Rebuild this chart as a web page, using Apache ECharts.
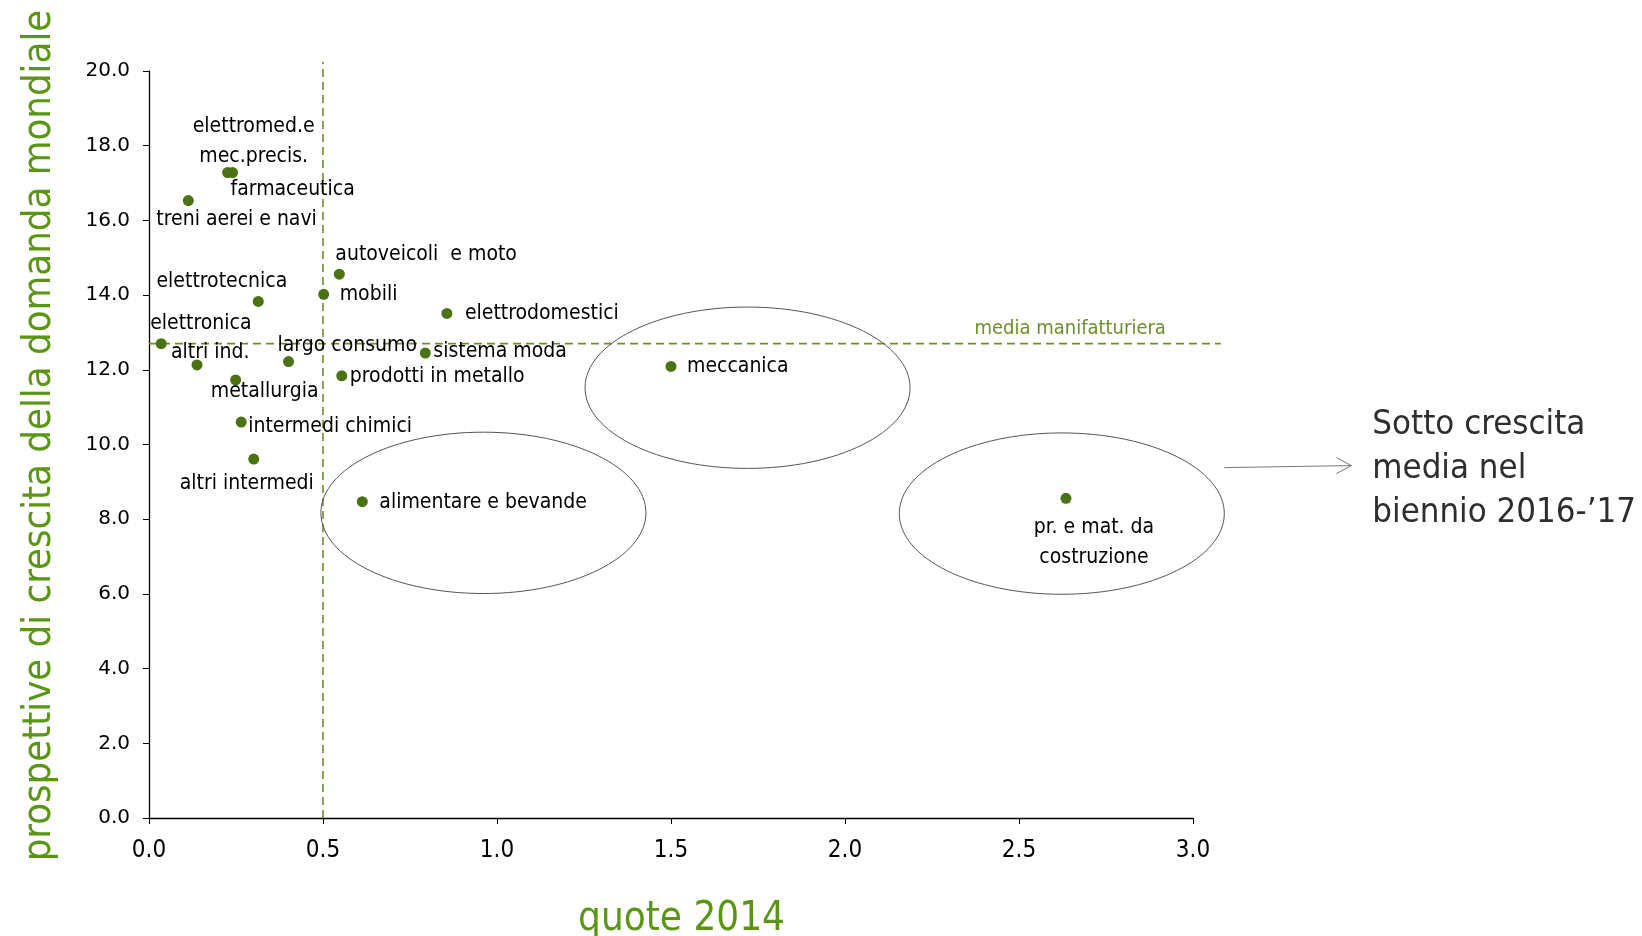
<!DOCTYPE html>
<html>
<head>
<meta charset="utf-8">
<script src="https://cdn.jsdelivr.net/npm/echarts@6/dist/echarts.min.js"></script>
<style>
  html, body { margin: 0; padding: 0; background: #ffffff; }
  #chart { width: 1642px; height: 936px; }
</style>
</head>
<body>
<div id="chart"></div>
<script>
// Settori manifatturieri: quota 2014 e prospettive di crescita della domanda mondiale
const sectors = [
  'elettromed.e\nmec.precis.', 'farmaceutica', 'treni aerei e navi', 'autoveicoli  e moto',
  'mobili', 'elettrotecnica', 'elettrodomestici', 'elettronica', 'altri ind.',
  'largo consumo', 'sistema moda', 'prodotti in metallo', 'metallurgia',
  'intermedi chimici', 'altri intermedi', 'alimentare e bevande', 'meccanica',
  'pr. e mat. da\ncostruzione'
];
const quote2014 = [
  0.226, 0.240, 0.113, 0.547,
  0.502, 0.314, 0.856, 0.035, 0.138,
  0.401, 0.794, 0.554, 0.249,
  0.265, 0.301, 0.613, 1.50,
  2.635
];
const crescita = [
  17.28, 17.28, 16.53, 14.56,
  14.02, 13.83, 13.51, 12.70, 12.13,
  12.22, 12.45, 11.84, 11.73,
  10.60, 9.61, 8.47, 12.09,
  8.56
];
const xTicks = [0, 0.5, 1, 1.5, 2, 2.5, 3];
const yTicks = [0, 2, 4, 6, 8, 10, 12, 14, 16, 18, 20];
const mediaQuota = 0.5;
const mediaCrescita = 12.7;
const mediaLabel = 'media manifatturiera';
const noteLines = ['Sotto crescita', 'media nel', 'biennio 2016-\u201917'];

// label placement per settore: [dx, dy, align] from the dot centre
const labelPlacement = {
  'elettromed.e\nmec.precis.': [26, -31, 'center'],
  'farmaceutica': [-2, 17, 'left'],
  'treni aerei e navi': [-32, 19, 'left'],
  'autoveicoli  e moto': [-4, -20, 'left'],
  'mobili': [16, 0, 'left'],
  'elettrotecnica': [29, -20, 'right'],
  'elettrodomestici': [18, 0, 'left'],
  'elettronica': [-11, -20, 'left'],
  'altri ind.': [-26, -12, 'left'],
  'largo consumo': [-11, -16, 'left'],
  'sistema moda': [8, -1, 'left'],
  'prodotti in metallo': [8, 1, 'left'],
  'metallurgia': [29, 12, 'center'],
  'intermedi chimici': [7, 4, 'left'],
  'altri intermedi': [-7, 24, 'center'],
  'alimentare e bevande': [17, 1, 'left'],
  'meccanica': [16, 0, 'left'],
  'pr. e mat. da\ncostruzione': [28, 44, 'center']
};

const NARROW = '"DejaVu Sans Condensed", "Liberation Sans Narrow", sans-serif';
const GREEN_TITLE = '#5a9614';
const GREEN_DOT = '#4a7314';
const GREEN_LINE = '#6b8f2b';

const points = sectors.map((name, i) => {
  const p = labelPlacement[name];
  return {
    name: name,
    value: [quote2014[i], crescita[i]],
    label: { offset: [p[0], p[1]], align: p[2] }
  };
});

const chart = echarts.init(document.getElementById('chart'), null, { renderer: 'canvas' });

chart.setOption({
  animation: false,
  backgroundColor: '#ffffff',
  grid: { left: 149, right: 449, top: 71, bottom: 118, outerBoundsMode: 'none' },
  xAxis: {
    type: 'value', min: 0, max: 3, interval: 0.5,
    name: 'quote 2014', nameLocation: 'middle', nameGap: 82,
    nameTextStyle: { color: GREEN_TITLE, fontFamily: NARROW, fontSize: 40, padding: [0, 0, 0, 21] },
    axisLine: { show: true, lineStyle: { color: '#000', width: 1.3 } },
    axisTick: { show: true, inside: false, length: 6, lineStyle: { color: '#000' } },
    axisLabel: {
      margin: 21, color: '#000', fontFamily: NARROW, fontSize: 24,
      formatter: v => xTicks.indexOf(v) >= 0 ? v.toFixed(1) : ''
    },
    splitLine: { show: false }
  },
  yAxis: {
    type: 'value', min: 0, max: 20, interval: 2,
    name: 'prospettive di crescita della domanda mondiale', nameLocation: 'middle', nameGap: 89,
    nameRotate: 90,
    nameTextStyle: { color: GREEN_TITLE, fontFamily: NARROW, fontSize: 39.7, padding: [0, 0, 0, 18] },
    axisLine: { show: true, lineStyle: { color: '#000', width: 1.3 } },
    axisTick: { show: true, inside: false, length: 6, lineStyle: { color: '#000' } },
    axisLabel: {
      margin: 19, color: '#000', fontFamily: '"DejaVu Sans", sans-serif', fontSize: 20,
      formatter: v => yTicks.indexOf(v) >= 0 ? v.toFixed(1) : ''
    },
    splitLine: { show: false }
  },
  series: [{
    type: 'scatter',
    symbol: 'circle',
    symbolSize: 11,
    itemStyle: { color: GREEN_DOT, opacity: 1 },
    z: 5,
    label: {
      show: true,
      position: 'inside',
      verticalAlign: 'middle',
      color: '#000',
      fontFamily: NARROW,
      fontSize: 21,
      lineHeight: 30,
      formatter: p => p.name
    },
    data: points
  }]
});

// reference lines, groups and note, placed through the grid's own scales
function px(x, y) { return chart.convertToPixel({ xAxisIndex: 0, yAxisIndex: 0 }, [x, y]); }

const groupEllipses = [
  { c: [0.961, 8.17] },
  { c: [1.72, 11.52] },
  { c: [2.623, 8.15] }
];
const ellipseRadius = [0.467, 2.16];

const graphics = [];
const dash = { stroke: GREEN_LINE, lineWidth: 1.6, lineDash: [8, 5] };

const vA = px(mediaQuota, 0), vB = px(mediaQuota, 20.25);
graphics.push({ type: 'line', z: 1, shape: { x1: vA[0], y1: vA[1], x2: vB[0], y2: vB[1] }, style: dash });
const hA = px(0, mediaCrescita), hB = px(3.08, mediaCrescita);
graphics.push({ type: 'line', z: 1, shape: { x1: hA[0], y1: hA[1], x2: hB[0], y2: hB[1] }, style: dash });

const mPos = px(2.647, mediaCrescita);
graphics.push({
  type: 'text', z: 2, x: mPos[0], y: mPos[1] - 15,
  style: { text: mediaLabel, fill: GREEN_LINE, font: '20px ' + NARROW, textAlign: 'center', textVerticalAlign: 'middle' }
});

const origin = px(0, 0);
const unit = px(ellipseRadius[0], ellipseRadius[1]);
const rx = unit[0] - origin[0], ry = origin[1] - unit[1];
groupEllipses.forEach(e => {
  const c = px(e.c[0], e.c[1]);
  graphics.push({
    type: 'ellipse', z: 1, shape: { cx: c[0], cy: c[1], rx: rx, ry: ry },
    style: { fill: 'none', stroke: '#555', lineWidth: 1 }
  });
});

// arrow from the last group to the note
const last = px(groupEllipses[2].c[0], groupEllipses[2].c[1]);
const aX1 = last[0] + rx, aY1 = last[1] - 46;
const aX2 = aX1 + 127, aY2 = aY1 - 2;
graphics.push({ type: 'line', shape: { x1: aX1, y1: aY1, x2: aX2, y2: aY2 }, style: { stroke: '#777', lineWidth: 1 } });
graphics.push({ type: 'polyline', shape: { points: [[aX2 - 15, aY2 - 8], [aX2, aY2], [aX2 - 15, aY2 + 8]] }, style: { stroke: '#777', lineWidth: 1, fill: 'none' } });

noteLines.forEach((t, i) => {
  graphics.push({
    type: 'text', x: aX2 + 21, y: aY2 - 41 + i * 44,
    style: { text: t, fill: '#2e2e2e', font: '34.5px ' + NARROW, textAlign: 'left', textVerticalAlign: 'middle' }
  });
});

chart.setOption({ graphic: graphics });
</script>
</body>
</html>
